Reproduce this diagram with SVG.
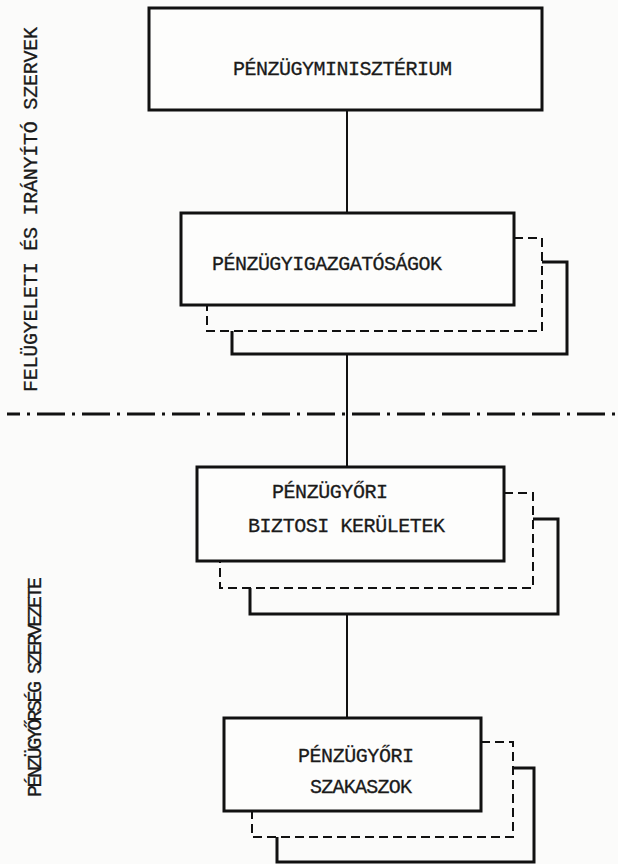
<svg xmlns="http://www.w3.org/2000/svg" width="618" height="864" viewBox="0 0 618 864">
<style>
.box{fill:#fdfdfc;stroke:#111;stroke-width:3}
.back{fill:none;stroke:#111;stroke-width:3;stroke-linejoin:miter}
.dash{fill:none;stroke:#111;stroke-width:2;stroke-dasharray:9 5}
.conn{stroke:#111;stroke-width:2;fill:none}
.sep{stroke:#111;stroke-width:3;fill:none;stroke-dasharray:28 7 3 7}
.t{font-family:"Liberation Mono","Courier New",monospace;font-size:20px;fill:#1a1a1a;stroke:#1a1a1a;stroke-width:0.3}
</style>
<rect width="618" height="864" fill="#fbfbfa"/>
<g id="connectors">
<line class="conn" x1="347" y1="110" x2="347" y2="213"/>
<line class="conn" x1="347" y1="354" x2="347" y2="467"/>
<line class="conn" x1="347" y1="614" x2="347" y2="718"/>
<line class="sep" x1="7" y1="414" x2="618" y2="414" stroke-dashoffset="15"/>
</g>
<g id="penzugyminiszterium">
<rect class="box" x="149" y="8" width="393" height="102"/>
<text class="t" x="233" y="75" textLength="219" lengthAdjust="spacing">PÉNZÜGYMINISZTÉRIUM</text>
</g>
<g id="penzugyigazgatosagok">
<path class="back" d="M542,262 H567 V354 H232 V331"/>
<path class="dash" d="M514,238 H542 V331 H207 V305"/>
<rect class="box" x="181" y="213" width="333" height="92"/>
<text class="t" x="212" y="270" textLength="230" lengthAdjust="spacing">PÉNZÜGYIGAZGATÓSÁGOK</text>
</g>
<g id="biztosi-keruletek">
<path class="back" d="M533,519 H558 V614 H250 V588"/>
<path class="dash" d="M504,493 H533 V588 H220 V561"/>
<rect class="box" x="197" y="467" width="307" height="94"/>
<text class="t" x="272" y="498" textLength="116" lengthAdjust="spacing">PÉNZÜGYŐRI</text>
<text class="t" x="248" y="532" textLength="197" lengthAdjust="spacing">BIZTOSI KERÜLETEK</text>
</g>
<g id="szakaszok">
<path class="back" d="M513,768 H534 V862 H277 V837"/>
<path class="dash" d="M481,742 H513 V837 H252 V811"/>
<rect class="box" x="224" y="718" width="257" height="93"/>
<text class="t" x="298" y="762" textLength="116" lengthAdjust="spacing">PÉNZÜGYŐRI</text>
<text class="t" x="310" y="793" textLength="102" lengthAdjust="spacing">SZAKASZOK</text>
</g>
<g id="labels">
<text class="t" transform="translate(37,392) rotate(-90)" textLength="365" lengthAdjust="spacing">FELÜGYELETI ÉS IRÁNYÍTÓ SZERVEK</text>
<text class="t" transform="translate(41,797) rotate(-90)" textLength="220" lengthAdjust="spacing">PÉNZÜGYŐRSÉG SZERVEZETE</text>
</g>
</svg>
